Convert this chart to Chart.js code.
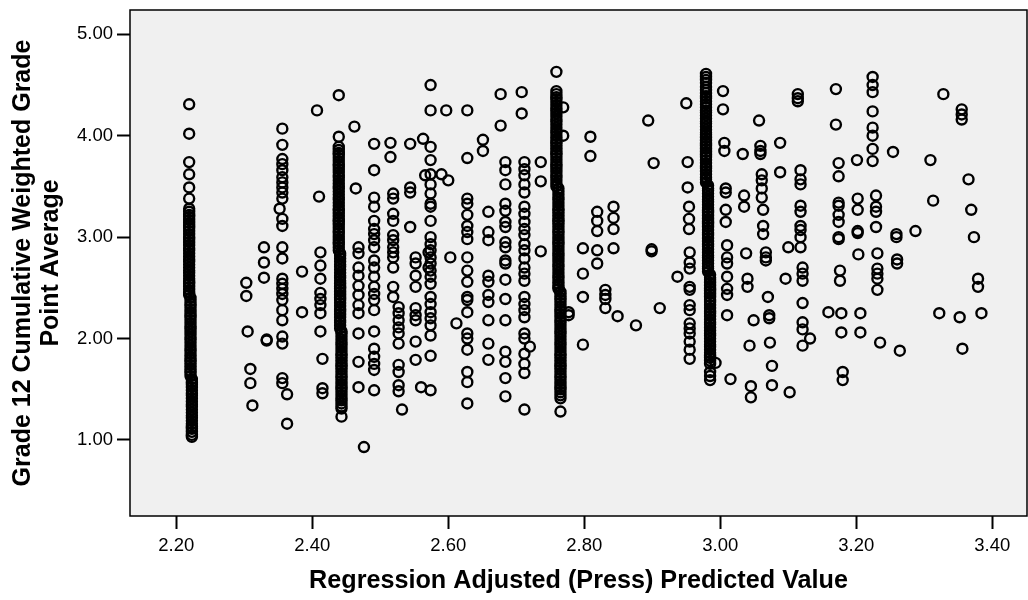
<!DOCTYPE html>
<html lang="en">
<head>
  <meta charset="UTF-8">
  <title>Grade 12 GPA vs Adjusted Predicted Value</title>
  <style>
    * { margin: 0; padding: 0; box-sizing: border-box; }
    body { background: #ffffff; width: 1028px; height: 600px; overflow: hidden; }
    canvas { display: block; }
  </style>
</head>
<body>
  <canvas id="scatter" width="1028" height="600"></canvas>

  <script src="https://cdn.jsdelivr.net/npm/chart.js"></script>
  <script>
    // Axis ticks
    const xTicks = [2.20, 2.40, 2.60, 2.80, 3.00, 3.20, 3.40];
    const yTicks = [1.00, 2.00, 3.00, 4.00, 5.00];

    // Adjusted (press) predicted value for each column of cases
    const predicted = [
      2.219, 2.221, 2.223,
      2.303, 2.305, 2.309, 2.312, 2.329, 2.333, 2.352, 2.356, 2.363,
      2.385, 2.407, 2.410, 2.412, 2.415,
      2.439, 2.441, 2.443,
      2.462, 2.464, 2.468, 2.476, 2.491,
      2.515, 2.519, 2.527, 2.532, 2.544, 2.552, 2.560, 2.563, 2.566, 2.571, 2.574,
      2.590, 2.597, 2.600, 2.603, 2.612, 2.628, 2.651, 2.659, 2.677, 2.684,
      2.708, 2.712, 2.720, 2.736,
      2.759, 2.762, 2.765,
      2.769, 2.777, 2.798, 2.809, 2.819, 2.831, 2.843, 2.849, 2.876,
      2.894, 2.899, 2.902, 2.911, 2.937, 2.950, 2.952, 2.954, 2.955,
      2.979, 2.982, 2.985,
      2.993, 3.004, 3.006, 3.008, 3.010, 3.015, 3.033, 3.035, 3.038, 3.040, 3.043, 3.045, 3.049,
      3.057, 3.059, 3.061, 3.063, 3.067, 3.070, 3.072, 3.073, 3.076,
      3.088, 3.096, 3.100, 3.102, 3.114, 3.118, 3.121, 3.132, 3.159,
      3.170, 3.174, 3.176, 3.178, 3.180, 3.201, 3.202, 3.203, 3.206,
      3.224, 3.229, 3.231, 3.235, 3.254, 3.259, 3.260, 3.264,
      3.287, 3.309, 3.313, 3.322, 3.328, 3.352, 3.355, 3.356, 3.365, 3.369, 3.373, 3.379, 3.384
    ];

    // Grade 12 cumulative weighted GPA of the cases in each column
    const gpa = [
      [4.31, 4.02, 3.74, 3.62, 3.49, 3.38, 3.28, 3.25, 3.22, 3.20, 3.17, 3.14, 3.11, 3.09, 3.06, 3.03, 3.00, 2.98, 2.95, 2.92, 2.89, 2.87, 2.84, 2.81, 2.78, 2.76, 2.73, 2.70, 2.67, 2.65, 2.62, 2.59, 2.56, 2.54, 2.51, 2.48, 2.45, 2.43],
      [2.40, 2.37, 2.34, 2.32, 2.29, 2.26, 2.23, 2.21, 2.18, 2.15, 2.12, 2.10, 2.07, 2.04, 2.01, 1.99, 1.96, 1.93, 1.90, 1.88, 1.85, 1.82, 1.79, 1.77, 1.74, 1.71, 1.68, 1.66, 1.63],
      [1.60, 1.57, 1.55, 1.52, 1.49, 1.46, 1.44, 1.41, 1.38, 1.35, 1.33, 1.30, 1.27, 1.24, 1.22, 1.19, 1.16, 1.13, 1.11, 1.08, 1.05, 1.03],
      [2.55, 2.42], [2.07], [1.70, 1.56], [1.34], [2.90, 2.75, 2.60], [1.99, 1.98], [3.28],
      [4.07, 3.91, 3.77, 3.72, 3.66, 3.59, 3.54, 3.49, 3.44, 3.38, 3.18, 3.11, 2.90, 2.79, 2.59, 2.54, 2.49, 2.44, 2.38, 2.28, 2.18, 2.02, 1.95, 1.61, 1.56],
      [1.45, 1.16],
      [2.66, 2.26], [4.25], [3.40], [2.85, 2.72, 2.59, 2.45, 2.39, 2.33, 2.25, 2.07], [1.80, 1.51, 1.46],
      [4.40, 3.99, 3.89, 3.86, 3.83, 3.81, 3.78, 3.75, 3.72, 3.70, 3.67, 3.64, 3.61, 3.59, 3.56, 3.53, 3.50, 3.48, 3.45, 3.42, 3.39, 3.37, 3.34, 3.31, 3.28, 3.26, 3.23, 3.20, 3.17, 3.15, 3.12, 3.09, 3.06, 3.04, 3.01, 2.98, 2.95, 2.93, 2.90, 2.87],
      [2.84, 2.82, 2.79, 2.76, 2.73, 2.71, 2.68, 2.65, 2.62, 2.60, 2.57, 2.54, 2.51, 2.49, 2.46, 2.43, 2.40, 2.38, 2.35, 2.32, 2.29, 2.27, 2.24, 2.21, 2.18, 2.16, 2.13, 2.10],
      [2.07, 2.05, 2.02, 1.99, 1.96, 1.94, 1.91, 1.88, 1.85, 1.83, 1.80, 1.77, 1.74, 1.72, 1.69, 1.66, 1.63, 1.61, 1.58, 1.55, 1.52, 1.50, 1.47, 1.44, 1.41, 1.39, 1.36, 1.33, 1.31, 1.23],
      [4.09], [3.48], [2.90, 2.84, 2.70, 2.62, 2.52, 2.43, 2.33, 2.25, 2.05, 1.77, 1.52], [0.93],
      [3.92, 3.66, 3.39, 3.30, 3.16, 3.08, 3.03, 2.97, 2.90, 2.77, 2.70, 2.61, 2.51, 2.44, 2.38, 2.28, 2.07, 1.90, 1.82, 1.75, 1.69, 1.49],
      [3.93, 3.79],
      [3.43, 3.38, 3.23, 3.16, 3.02, 2.97, 2.90, 2.85, 2.80, 2.70, 2.51, 2.41],
      [2.31, 2.25, 2.18, 2.11, 2.05, 1.95, 1.74, 1.67, 1.54, 1.48],
      [1.30],
      [3.92, 3.49, 3.44, 3.10],
      [2.80, 2.74, 2.62, 2.51, 2.30, 2.23, 2.18, 1.97, 1.79],
      [1.52], [3.97], [3.61], [2.85, 2.70],
      [4.50, 4.25, 3.89, 3.76, 3.62, 3.52, 3.43, 3.33, 3.30, 3.16, 3.00, 2.93, 2.87, 2.80, 2.74, 2.67, 2.61, 2.54, 2.41, 2.34, 2.26, 2.20, 2.13, 2.03, 1.83, 1.49],
      [3.62], [4.25], [3.56], [2.80], [2.15],
      [4.25, 3.78, 3.38, 3.33, 3.22, 3.11, 3.05, 2.98, 2.80, 2.67, 2.56, 2.41, 2.38, 2.26, 2.05, 2.00, 1.89, 1.67, 1.57, 1.36],
      [3.96, 3.85],
      [3.25, 3.05, 2.97, 2.62, 2.56, 2.43, 2.36, 2.18, 1.95, 1.79],
      [4.41, 4.10],
      [3.74, 3.66, 3.52, 3.33, 3.26, 3.15, 3.10, 2.95, 2.90, 2.77, 2.74, 2.58, 2.39, 2.18, 1.87, 1.77, 1.61, 1.43],
      [4.43, 4.22],
      [3.74, 3.67, 3.61, 3.52, 3.44, 3.30, 3.23, 3.15, 3.08, 3.02, 2.93, 2.87, 2.79, 2.70, 2.64, 2.57, 2.41, 2.34, 2.28, 2.21, 2.05, 2.00, 1.85, 1.75, 1.66, 1.30],
      [1.92],
      [3.74, 3.55, 2.86],
      [4.63, 4.44, 4.41, 4.38, 4.36, 4.33, 4.30, 4.27, 4.25, 4.22, 4.19, 4.16, 4.14, 4.11, 4.08, 4.05, 4.03, 4.00, 3.97, 3.94, 3.92, 3.89, 3.86, 3.83, 3.81, 3.78, 3.75, 3.72, 3.70, 3.67, 3.64, 3.61, 3.59, 3.56, 3.53, 3.50],
      [3.48, 3.45, 3.42, 3.39, 3.37, 3.34, 3.31, 3.28, 3.26, 3.23, 3.20, 3.17, 3.15, 3.12, 3.09, 3.06, 3.04, 3.01, 2.98, 2.95, 2.93, 2.90, 2.87, 2.84, 2.82, 2.79, 2.76, 2.73, 2.71, 2.68, 2.65, 2.62, 2.60, 2.57, 2.54, 2.51, 2.49],
      [2.46, 2.43, 2.40, 2.38, 2.35, 2.32, 2.29, 2.27, 2.24, 2.21, 2.18, 2.16, 2.13, 2.10, 2.07, 2.05, 2.02, 1.99, 1.96, 1.94, 1.91, 1.88, 1.85, 1.83, 1.80, 1.77, 1.74, 1.72, 1.69, 1.66, 1.63, 1.61, 1.58, 1.55, 1.52, 1.50, 1.47, 1.44, 1.41, 1.28],
      [4.28, 4.00], [2.26, 2.23], [2.89, 2.64, 2.41, 1.94], [3.99, 3.80],
      [3.25, 3.16, 3.06, 2.87, 2.74], [2.48, 2.43, 2.39, 2.30], [3.30, 3.19, 3.08, 2.89], [2.22], [2.13],
      [4.15], [2.88, 2.86], [3.73], [2.30], [2.61], [4.32], [3.74, 3.49], [3.30, 3.18, 3.08],
      [2.85, 2.75, 2.69, 2.51, 2.48, 2.33, 2.28, 2.15, 2.10, 2.05, 1.97, 1.89, 1.80],
      [4.61, 4.58, 4.55, 4.52, 4.48, 4.45, 4.42, 4.39, 4.37, 4.34, 4.31, 4.28, 4.25, 4.23, 4.20, 4.17, 4.14, 4.12, 4.09, 4.06, 4.03, 4.01, 3.98, 3.95, 3.92, 3.90, 3.87, 3.84, 3.81, 3.79, 3.76, 3.73, 3.70, 3.68, 3.65, 3.62, 3.59, 3.57, 3.54],
      [3.51, 3.48, 3.46, 3.43, 3.40, 3.37, 3.35, 3.32, 3.29, 3.26, 3.24, 3.21, 3.18, 3.15, 3.13, 3.10, 3.07, 3.04, 3.02, 2.99, 2.96, 2.93, 2.91, 2.88, 2.85, 2.82, 2.80, 2.77, 2.74, 2.71, 2.69, 2.66],
      [2.63, 2.60, 2.58, 2.55, 2.52, 2.49, 2.47, 2.44, 2.41, 2.38, 2.36, 2.33, 2.30, 2.27, 2.25, 2.22, 2.19, 2.16, 2.14, 2.11, 2.08, 2.05, 2.03, 2.00, 1.97, 1.94, 1.92, 1.89, 1.86, 1.83, 1.81, 1.78, 1.75, 1.67, 1.63, 1.59],
      [1.76], [4.44, 4.26], [3.93, 3.85], [3.48, 3.44, 3.27, 3.15], [2.92, 2.80, 2.74, 2.61, 2.49, 2.43, 2.23], [1.60],
      [3.82], [3.41, 3.30], [2.84], [2.59, 2.51], [1.93], [1.53, 1.42], [2.18],
      [4.15], [3.90, 3.85, 3.82], [3.62, 3.56, 3.48, 3.39], [3.27, 3.11, 3.03], [2.85, 2.80, 2.77], [2.41], [2.23, 2.20], [1.96], [1.73, 1.54],
      [3.93, 3.64], [2.59], [2.90], [1.47], [4.41, 4.37, 4.34],
      [3.66, 3.57, 3.52, 3.31, 3.25, 3.11, 3.07, 3.00, 2.90],
      [2.70, 2.64, 2.57, 2.35, 2.16, 2.09, 1.93], [2.00], [2.26],
      [4.46, 4.11], [3.73, 3.60, 3.34, 3.31, 3.22, 3.15, 3.00, 2.98], [2.67, 2.57], [2.25, 2.06], [1.67, 1.59],
      [3.76], [3.38, 3.27, 3.06, 3.04], [2.83], [2.25, 2.06],
      [4.58, 4.50, 4.43, 4.24, 4.08, 4.00, 3.87, 3.75], [3.41, 3.30, 3.25, 3.10], [2.84, 2.69, 2.64, 2.59, 2.48], [1.96],
      [3.84], [3.03, 3.00], [2.78, 2.74], [1.88],
      [3.06], [3.76], [3.36], [2.25], [4.41], [2.21], [4.26, 4.21, 4.16], [1.90], [3.57], [3.27], [3.00], [2.59, 2.51], [2.25]
    ];

    const points = predicted.flatMap((x, i) => gpa[i].map(y => ({ x, y })));

    const FONT = 'Arial, "Liberation Sans", sans-serif';

    // grey plot area with a black frame round it
    const plotFrame = {
      id: 'plotFrame',
      beforeDatasetsDraw(chart) {
        const { ctx, chartArea: a } = chart;
        ctx.save();
        ctx.fillStyle = '#f0f0f0';
        ctx.fillRect(a.left, a.top, a.right - a.left, a.bottom - a.top);
        ctx.restore();
      },
      afterDatasetsDraw(chart) {
        const { ctx, chartArea: a } = chart;
        ctx.save();
        ctx.strokeStyle = '#000';
        ctx.lineWidth = 1.5;
        ctx.strokeRect(a.left, a.top, a.right - a.left, a.bottom - a.top);
        ctx.restore();
      }
    };

    // fixed axis boxes, and no extra room kept for the edge labels
    function fixBox(size) {
      return s => {
        if (s.isHorizontal()) s.height = size; else s.width = size;
        s.paddingTop = s.paddingBottom = s.paddingLeft = s.paddingRight = 0;
      };
    }

    new Chart(document.getElementById('scatter').getContext('2d'), {
      type: 'scatter',
      data: {
        datasets: [{
          data: points,
          pointStyle: 'circle',
          pointRadius: 5,
          pointBorderWidth: 2.4,
          pointBorderColor: '#000',
          pointBackgroundColor: 'rgba(0,0,0,0)'
        }]
      },
      plugins: [plotFrame],
      options: {
        responsive: false,
        animation: false,
        devicePixelRatio: 1,
        events: [],
        layout: { autoPadding: false, padding: { top: 10, right: 1, bottom: 0, left: 0 } },
        plugins: { legend: { display: false }, tooltip: { enabled: false } },
        scales: {
          x: {
            type: 'linear',
            min: 2.132,
            max: 3.451,
            afterFit: fixBox(84),
            afterBuildTicks: s => { s.ticks = xTicks.map(v => ({ value: v })); },
            grid: { drawOnChartArea: false, drawTicks: true, tickLength: 13, tickWidth: 2, tickColor: '#000' },
            border: { display: false },
            ticks: {
              padding: 6,
              color: '#000',
              font: { family: FONT, size: 18.5 },
              callback: v => v.toFixed(2)
            },
            title: {
              display: true,
              text: 'Regression Adjusted (Press) Predicted Value',
              color: '#000',
              font: { family: FONT, size: 25.2, weight: 'bold' },
              padding: { top: 0, bottom: 4 }
            }
          },
          y: {
            type: 'linear',
            min: 0.25,
            max: 5.24,
            afterFit: fixBox(130),
            afterBuildTicks: s => { s.ticks = yTicks.map(v => ({ value: v })); },
            grid: { drawOnChartArea: false, drawTicks: true, tickLength: 13, tickWidth: 2, tickColor: '#000' },
            border: { display: false },
            ticks: {
              padding: 4,
              color: '#000',
              font: { family: FONT, size: 18.5 },
              callback: v => v.toFixed(2)
            },
            title: {
              display: true,
              text: ['Grade 12 Cumulative Weighted Grade', 'Point Average'],
              color: '#000',
              font: { family: FONT, size: 25, weight: 'bold', lineHeight: 1.12 },
              padding: { top: 9, bottom: 0 }
            }
          }
        }
      }
    });
  </script>
</body>
</html>
